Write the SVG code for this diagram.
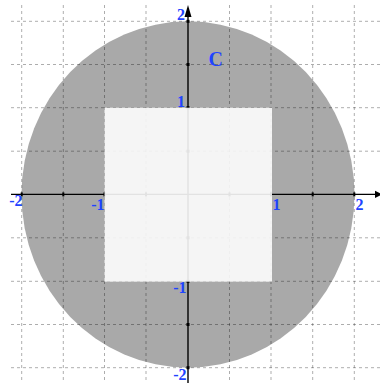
<svg xmlns="http://www.w3.org/2000/svg" width="380" height="383" viewBox="0 0 380 383">
  <style>
    .grid line { stroke: #000; stroke-opacity: 0.32; stroke-width: 1; stroke-dasharray: 3 3; }
    .axis { stroke: #000; stroke-width: 1.4; fill: none; }
    .tick { fill: #000; }
    .lbl { font-family: "Liberation Serif", "Times New Roman", serif; font-weight: bold; font-size: 16px; fill: #1f44ff; }
    .name { font-size: 20px; }
  </style>
  <rect width="380" height="383" fill="#fff"/>
  <g id="region-disk">
    <ellipse cx="188" cy="194.5" rx="166.5" ry="173.2" fill="#a9a9a9"/>
  </g>
  <g id="grid" class="grid">
    <line x1="21.7" y1="5" x2="21.7" y2="383"/>
    <line x1="63.3" y1="5" x2="63.3" y2="383"/>
    <line x1="104.5" y1="5" x2="104.5" y2="383"/>
    <line x1="146" y1="5" x2="146" y2="383"/>
    <line x1="229.5" y1="5" x2="229.5" y2="383"/>
    <line x1="271" y1="5" x2="271" y2="383"/>
    <line x1="312.7" y1="5" x2="312.7" y2="383"/>
    <line x1="354.3" y1="5" x2="354.3" y2="383"/>
    <line x1="11" y1="21.3" x2="380" y2="21.3"/>
    <line x1="11" y1="64.5" x2="380" y2="64.5"/>
    <line x1="11" y1="107.7" x2="380" y2="107.7"/>
    <line x1="11" y1="151.2" x2="380" y2="151.2"/>
    <line x1="11" y1="237.8" x2="380" y2="237.8"/>
    <line x1="11" y1="281.3" x2="380" y2="281.3"/>
    <line x1="11" y1="324.5" x2="380" y2="324.5"/>
    <line x1="11" y1="367.7" x2="380" y2="367.7"/>
  </g>
  <g id="axes">
    <line class="axis" x1="11" y1="194.4" x2="376" y2="194.4"/>
    <polygon points="375,190.8 382,194.4 375,198" fill="#000"/>
    <line class="axis" x1="188" y1="383" x2="188" y2="14"/>
    <polygon points="184.5,17 188,5 191.5,17" fill="#000"/>
    <g class="tick">
      <rect x="186.5" y="19.8" width="3" height="3"/>
      <rect x="186.5" y="63" width="3" height="3"/>
      <rect x="186.5" y="106.2" width="3" height="3"/>
      <rect x="186.5" y="149.7" width="3" height="3"/>
      <rect x="186.5" y="236.3" width="3" height="3"/>
      <rect x="186.5" y="279.8" width="3" height="3"/>
      <rect x="186.5" y="323" width="3" height="3"/>
      <rect x="186.5" y="366.2" width="3" height="3"/>
      <rect x="20.7" y="192.4" width="2" height="4"/>
      <rect x="62.3" y="192.4" width="2" height="4"/>
      <rect x="103.5" y="192.4" width="2" height="4"/>
      <rect x="145" y="192.4" width="2" height="4"/>
      <rect x="228.5" y="192.4" width="2" height="4"/>
      <rect x="270" y="192.4" width="2" height="4"/>
      <rect x="311.7" y="192.4" width="2" height="4"/>
      <rect x="353.3" y="192.4" width="2" height="4"/>
    </g>
  </g>
  <g id="region-square">
    <rect x="104.5" y="107.7" width="167.5" height="174" fill="#fff" fill-opacity="0.885"/>
  </g>
  <g id="labels" class="lbl">
    <text x="185" y="20" text-anchor="end">2</text>
    <text x="185" y="106.7" text-anchor="end">1</text>
    <text x="186.5" y="293.3" text-anchor="end">-1</text>
    <text x="186.5" y="380" text-anchor="end">-2</text>
    <text x="22.5" y="205.8" text-anchor="end">-2</text>
    <text x="104.5" y="210" text-anchor="end">-1</text>
    <text x="272.5" y="210">1</text>
    <text x="355.5" y="209.5">2</text>
    <text class="name" x="208.5" y="65.7">C</text>
  </g>
</svg>
